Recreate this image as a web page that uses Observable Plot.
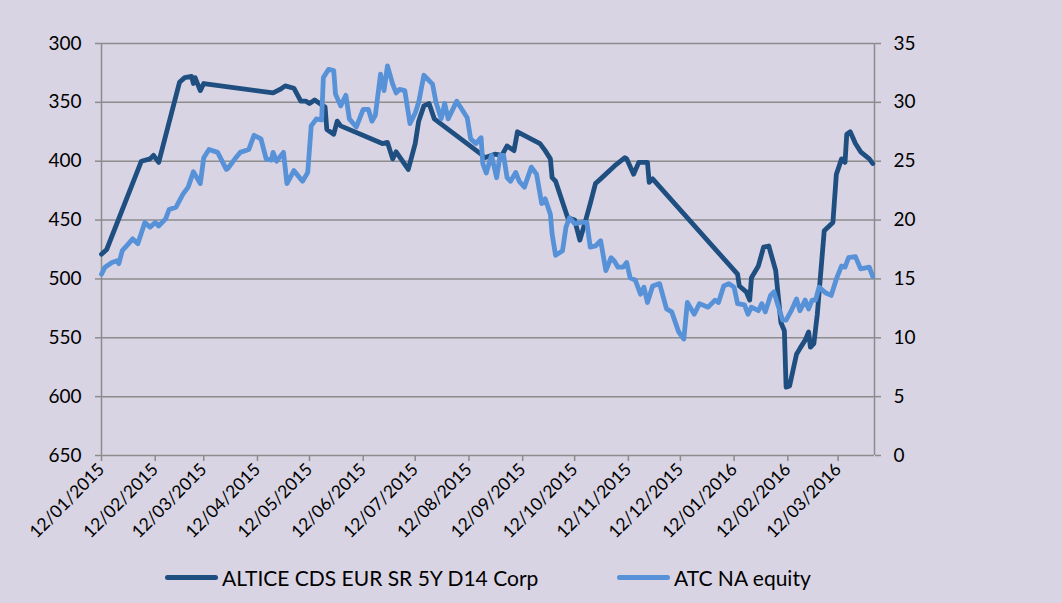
<!DOCTYPE html>
<html><head><meta charset="utf-8">
<script src="https://cdn.jsdelivr.net/npm/d3@7"></script>
<script src="https://cdn.jsdelivr.net/npm/@observablehq/plot@0.6"></script>
<style>
html,body{margin:0;padding:0;background:#d8d4e3;}
#chart{width:1062px;height:603px;position:relative;background:#d8d4e3;font-family:Lato, sans-serif;overflow:hidden}
#plot{position:absolute;left:0;top:0}
.item{position:absolute;top:562px;display:flex;align-items:center;font-size:21px;color:#000;height:30px;white-space:nowrap}
.swatch{width:53px;height:5px;border-radius:3px;margin-right:4px}
</style></head>
<body>
<div id="chart"><div id="plot"></div></div>
<script>
// ---- data ----
const cdsName = "ALTICE CDS EUR SR 5Y D14 Corp";
const eqName = "ATC NA equity";
const cdsDates = ["2015-01-12","2015-01-15","2015-02-04","2015-02-09","2015-02-11","2015-02-14","2015-02-26","2015-03-01","2015-03-05","2015-03-06","2015-03-07","2015-03-10","2015-03-12","2015-04-21","2015-04-25","2015-04-28","2015-05-03","2015-05-07","2015-05-10","2015-05-12","2015-05-15","2015-05-19","2015-05-21","2015-05-22","2015-05-26","2015-05-28","2015-05-30","2015-06-23","2015-06-26","2015-06-29","2015-07-01","2015-07-08","2015-07-12","2015-07-14","2015-07-17","2015-07-20","2015-07-23","2015-08-19","2015-08-21","2015-08-27","2015-08-31","2015-09-03","2015-09-07","2015-09-09","2015-09-22","2015-09-25","2015-09-28","2015-09-29","2015-10-01","2015-10-08","2015-10-12","2015-10-15","2015-10-18","2015-10-21","2015-10-24","2015-10-27","2015-11-04","2015-11-10","2015-11-11","2015-11-15","2015-11-18","2015-11-23","2015-11-24","2015-11-26","2016-01-14","2016-01-15","2016-01-19","2016-01-21","2016-01-22","2016-01-26","2016-01-29","2016-02-01","2016-02-05","2016-02-08","2016-02-10","2016-02-11","2016-02-13","2016-02-17","2016-02-19","2016-02-22","2016-02-24","2016-02-25","2016-02-27","2016-02-29","2016-03-04","2016-03-09","2016-03-11","2016-03-14","2016-03-16","2016-03-17","2016-03-19","2016-03-22","2016-03-25","2016-03-30","2016-04-01"];
const cdsValues = [479,475,400,398,395,401,333,329,328,334,329,340,334,342,339,336,338,349,349,351,348,352,354,373,377,366,370,385,384,398,392,407,385,366,353,351,364,394,397,394,395,387,391,375,385,391,398,414,417,448,450,467,452,436,419,415,404,397,398,411,401,401,418,415,496,506,511,518,499,489,473,472,493,537,544,592,591,564,559,552,545,558,555,530,459,452,411,398,401,377,375,385,392,398,402];
const eqDates = ["2015-01-12","2015-01-14","2015-01-18","2015-01-21","2015-01-22","2015-01-24","2015-01-27","2015-01-30","2015-02-02","2015-02-06","2015-02-09","2015-02-12","2015-02-14","2015-02-18","2015-02-20","2015-02-24","2015-02-28","2015-03-03","2015-03-06","2015-03-10","2015-03-12","2015-03-15","2015-03-20","2015-03-25","2015-03-26","2015-03-30","2015-04-02","2015-04-07","2015-04-10","2015-04-14","2015-04-17","2015-04-20","2015-04-21","2015-04-23","2015-04-27","2015-04-29","2015-05-03","2015-05-08","2015-05-11","2015-05-13","2015-05-16","2015-05-19","2015-05-20","2015-05-23","2015-05-26","2015-05-27","2015-05-30","2015-06-02","2015-06-04","2015-06-08","2015-06-12","2015-06-15","2015-06-17","2015-06-19","2015-06-22","2015-06-24","2015-06-26","2015-06-29","2015-07-01","2015-07-03","2015-07-06","2015-07-09","2015-07-12","2015-07-14","2015-07-17","2015-07-22","2015-07-24","2015-07-27","2015-07-29","2015-07-31","2015-08-05","2015-08-08","2015-08-11","2015-08-13","2015-08-16","2015-08-19","2015-08-20","2015-08-22","2015-08-25","2015-08-28","2015-08-30","2015-09-01","2015-09-03","2015-09-05","2015-09-08","2015-09-10","2015-09-13","2015-09-17","2015-09-20","2015-09-23","2015-09-25","2015-09-28","2015-09-29","2015-10-01","2015-10-05","2015-10-07","2015-10-09","2015-10-12","2015-10-16","2015-10-19","2015-10-21","2015-10-24","2015-10-27","2015-10-30","2015-11-02","2015-11-04","2015-11-06","2015-11-09","2015-11-11","2015-11-13","2015-11-16","2015-11-19","2015-11-21","2015-11-23","2015-11-26","2015-11-30","2015-12-04","2015-12-07","2015-12-11","2015-12-14","2015-12-16","2015-12-20","2015-12-23","2015-12-28","2016-01-01","2016-01-03","2016-01-06","2016-01-09","2016-01-12","2016-01-14","2016-01-18","2016-01-20","2016-01-22","2016-01-26","2016-01-28","2016-01-30","2016-02-02","2016-02-04","2016-02-06","2016-02-09","2016-02-11","2016-02-14","2016-02-17","2016-02-19","2016-02-22","2016-02-24","2016-02-26","2016-02-28","2016-03-01","2016-03-05","2016-03-08","2016-03-11","2016-03-14","2016-03-16","2016-03-18","2016-03-22","2016-03-25","2016-03-30","2016-04-01"];
const eqValues = [15.4,16.0,16.4,16.55,16.3,17.4,17.9,18.4,18.0,19.8,19.4,19.8,19.5,20.1,20.9,21.1,22.2,22.8,24.1,23.1,25.3,26.0,25.75,24.3,24.4,25.2,25.75,26.0,27.2,26.9,25.2,25.1,25.75,25.0,25.75,23.1,24.2,23.3,24.05,28.0,28.6,28.5,32.1,32.8,32.7,30.7,29.7,30.6,28.6,27.9,29.4,29.4,28.4,28.9,32.4,31.0,33.1,31.55,30.8,31.1,31.0,28.2,29.1,30.0,32.3,31.55,30.0,28.6,29.9,28.6,30.1,29.4,28.7,26.9,26.5,27.0,24.8,24.0,25.5,23.6,25.5,25.5,23.6,23.3,24.05,23.3,22.8,24.5,23.9,21.4,21.8,20.5,18.8,17.0,17.4,19.4,20.2,19.7,19.8,19.8,17.7,17.8,18.25,15.7,16.8,16.5,16.0,16.0,16.4,15.1,14.9,13.7,14.3,13.0,14.4,14.6,12.45,12.2,10.5,9.9,13.0,12.0,12.9,12.6,13.2,13.0,14.4,14.6,14.3,12.9,12.8,12.0,12.6,12.3,12.9,12.2,13.6,13.9,12.9,11.5,11.5,12.3,13.3,12.3,13.2,12.45,13.2,13.2,14.3,13.8,13.6,15.0,16.1,16.0,16.8,16.9,15.85,16.0,15.2];
const leftTicks = [300,350,400,450,500,550,600,650];
const rightTicks = [35,30,25,20,15,10,5,0];
const monthTicks = ["2015-01-12","2015-02-12","2015-03-12","2015-04-12","2015-05-12","2015-06-12","2015-07-12","2015-08-12","2015-09-12","2015-10-12","2015-11-12","2015-12-12","2016-01-12","2016-02-12","2016-03-12"];
const xStart = "2015-01-12", xEnd = "2016-04-02";

// ---- build ----
const darkC = "#1f4e80", lightC = "#5791d8", gridC = "#8c8c8c";
const cdsRows = cdsDates.map((d,i)=>({date:new Date(d), v:cdsValues[i]}));
const eqRows = eqDates.map((d,i)=>({date:new Date(d), e:eqValues[i]}));
// secondary axis 0..35 maps onto primary 650..300
const toPrimary = e => 650 - e*10;
const fromPrimary = v => Math.round((650 - v)/10);
const x0 = new Date(xStart), x1 = new Date(xEnd);

const chart = Plot.plot({
  width: 1062, height: 548,
  marginLeft: 101, marginRight: 188, marginTop: 43, marginBottom: 93,
  x: {type:"utc", domain:[x0,x1], axis:null},
  y: {domain:[650,300], axis:null},
  style:{background:"transparent", fontFamily:"Lato, sans-serif", color:"#000", overflow:"visible"},
  marks: [
    Plot.ruleY(leftTicks, {stroke:gridC, strokeWidth:1.5}),
    Plot.ruleX([x0], {stroke:gridC, strokeWidth:1.5}),
    Plot.ruleX([x1], {stroke:gridC, strokeWidth:1.5}),
    Plot.axisY({anchor:"left", label:null, ticks:leftTicks, tickSize:6, tickPadding:14, stroke:gridC, strokeWidth:1.5, fill:"#000", fontSize:19, tickFormat:d=>String(d)}),
    Plot.axisY({anchor:"right", label:null, ticks:rightTicks.map(toPrimary), tickSize:6, tickPadding:13, stroke:gridC, strokeWidth:1.5, fill:"#000", fontSize:19, tickFormat:fromPrimary}),
    Plot.axisX({anchor:"bottom", label:null, ticks:monthTicks.map(d=>new Date(d)), tickSize:6, tickPadding:5, tickRotate:-45, stroke:gridC, strokeWidth:1.5, fill:"#000", fontSize:17.5, tickFormat:d3.utcFormat("%d/%m/%Y")}),
    Plot.lineY(cdsRows, {x:"date", y:"v", stroke:darkC, strokeWidth:4.8, strokeLinejoin:"round", strokeLinecap:"round"}),
    Plot.lineY(eqRows, {x:"date", y:d=>toPrimary(d.e), stroke:lightC, strokeWidth:4.8, strokeLinejoin:"round", strokeLinecap:"round"})
  ]
});
document.getElementById("plot").appendChild(chart);

// legend
const chartDiv = document.getElementById("chart");
[[cdsName, darkC, 165],[eqName, lightC, 617]].forEach(([name,color,left])=>{
  const it = document.createElement("div");
  it.className = "item"; it.style.left = left+"px";
  const sw = document.createElement("div"); sw.className="swatch"; sw.style.background=color;
  const tx = document.createElement("span"); tx.textContent = name;
  it.appendChild(sw); it.appendChild(tx);
  chartDiv.appendChild(it);
});
</script>
</body></html>
